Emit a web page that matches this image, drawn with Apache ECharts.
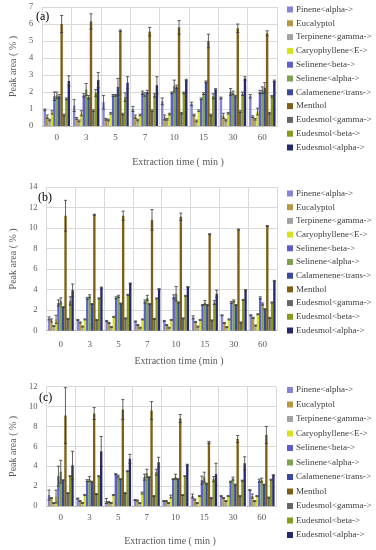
<!DOCTYPE html>
<html><head><meta charset="utf-8">
<script src="https://cdn.jsdelivr.net/npm/echarts@6/dist/echarts.min.js"></script>
<style>html,body{margin:0;padding:0;background:#fff}#c{width:376px;height:550px}</style>
</head><body><div id="c"></div>
<script>
const categories = ['0','3','5','7','10','15','30','60'];
const seriesNames = ['Pinene<alpha->','Eucalyptol','Terpinene<gamma->','Caryophyllene<E->','Selinene<beta->','Selinene<alpha->','Calamenene<trans->','Menthol','Eudesmol<gamma->','Eudesmol<beta->','Eudesmol<alpha->'];
const panelLabels = ['(a)','(b)','(c)'];
const xNames = ['Extraction time ( min )','Extraction time (min )','Extraction time ( min )'];
const yMax = [7,14,12];
const yStep = [1,2,2];

// panel (a): rows = series, cols = categories
const valuesA = [
 [0.95,1.2,1.4,1.0,1.45,1.3,1.65,1.75],
 [0.55,0.45,0.4,0.55,0.5,0.65,0.6,0.55],
 [0.35,0.3,0.35,0.35,0.4,0.3,0.35,0.4],
 [0.8,0.75,0.75,0.65,0.7,0.9,0.75,0.85],
 [1.75,1.8,1.8,1.95,1.95,1.6,2.0,2.0],
 [1.8,2.15,1.8,1.85,2.35,1.9,1.95,2.1],
 [1.75,1.7,2.3,2.0,2.3,2.6,1.75,2.25],
 [6.0,6.15,5.6,5.55,5.8,5.0,5.75,5.45],
 [0.65,0.9,0.7,0.9,0.75,0.65,0.85,0.75],
 [1.6,1.95,1.7,1.8,1.95,1.75,1.9,1.75],
 [2.65,2.7,2.55,2.4,2.7,2.15,2.8,2.65]
];
const errorsA = [
 [0.05,0.35,0.4,0.15,0.2,0.1,0.05,0.1],
 [0.1,0.05,0.05,0.1,0.15,0.05,0.15,0.05],
 [0.05,0.05,0.05,0.05,0.05,0.05,0.05,0.05],
 [0.1,0.15,0.05,0.05,0.05,0.05,0.05,0.2],
 [0.25,0.1,0.05,0.1,0.05,0.05,0.2,0.1],
 [0.2,0.35,0.05,0.1,0.35,0.05,0.1,0.2],
 [0.1,0.1,0.5,0.1,0.1,0.05,0.05,0.3],
 [0.5,0.45,0.05,0.25,0.4,0.4,0.25,0.15],
 [0.05,0.05,0.05,0.05,0.05,0.05,0.05,0.05],
 [0.05,0.2,0.25,0.1,0.05,0.15,0.1,0.05],
 [0.3,0.45,0.35,0.5,0.05,0.05,0.1,0.05]
];
// panel (b)
const valuesB = [
 [1.2,1.05,0.95,0.9,0.95,1.3,1.5,1.5],
 [1.0,0.8,0.75,0.55,0.55,0.85,0.75,1.25],
 [0.45,0.4,0.35,0.3,0.3,0.4,0.35,0.5],
 [1.1,1.1,1.35,1.1,1.05,1.05,1.1,1.6],
 [2.7,3.15,3.2,2.85,3.3,2.5,2.75,3.2],
 [2.9,3.35,3.35,3.2,3.6,2.75,2.9,2.6],
 [2.3,2.6,2.65,2.6,2.75,2.5,2.5,2.1],
 [11.2,11.3,11.2,10.8,11.1,9.4,9.85,10.2],
 [1.15,1.05,1.2,1.15,1.2,1.0,0.8,1.25],
 [2.9,3.15,3.5,3.15,3.4,2.75,3.0,2.75],
 [3.95,4.2,4.6,4.05,4.25,3.6,3.95,4.85]
];
const errorsB = [
 [0.15,0.05,0.05,0.05,0.05,0.15,0.05,0.05],
 [0.15,0.05,0.05,0.05,0.05,0.05,0.05,0.05],
 [0.05,0.05,0.05,0.05,0.05,0.05,0.05,0.05],
 [0.4,0.05,0.05,0.05,0.05,0.05,0.05,0.05],
 [0.3,0.1,0.1,0.15,0.2,0.05,0.1,0.1],
 [0.3,0.15,0.1,0.25,0.7,0.2,0.1,0.1],
 [0.05,0.05,0.05,0.05,0.05,0.05,0.05,0.05],
 [1.5,0.05,0.45,1.0,0.35,0.05,0.05,0.05],
 [0.05,0.05,0.05,0.05,0.05,0.05,0.05,0.05],
 [0.4,0.05,0.05,0.05,0.05,0.2,0.05,0.05],
 [0.6,0.05,0.05,0.05,0.05,0.35,0.05,0.05]
];
// panel (c)
const valuesC = [
 [1.1,0.75,0.5,0.6,0.5,1.0,1.0,1.6],
 [0.8,0.5,0.4,0.55,0.5,0.65,0.8,1.0],
 [0.3,0.3,0.3,0.3,0.3,0.3,0.5,0.5],
 [0.95,1.1,1.1,1.3,0.95,1.0,1.0,1.0],
 [3.0,2.55,3.2,2.9,2.7,2.6,2.45,2.55],
 [3.45,2.7,3.0,3.3,2.95,2.9,2.75,2.6],
 [2.6,2.45,2.7,2.9,2.7,2.25,2.15,2.15],
 [9.1,9.3,9.7,9.6,8.8,6.4,6.75,7.15],
 [1.3,1.2,1.3,1.0,1.1,0.8,1.0,0.85],
 [3.0,3.0,3.5,3.4,3.0,2.7,2.55,2.65],
 [4.1,5.5,4.75,4.4,4.15,3.2,4.3,3.1]
];
const errorsC = [
 [0.5,0.05,0.25,0.05,0.05,0.2,0.05,0.05],
 [0.05,0.05,0.05,0.05,0.05,0.05,0.05,0.2],
 [0.05,0.05,0.05,0.05,0.05,0.05,0.05,0.05],
 [0.65,0.05,0.05,0.1,0.15,0.05,0.05,0.05],
 [1.0,0.1,0.05,0.3,0.05,0.4,0.05,0.15],
 [1.15,0.25,0.1,0.4,0.25,0.5,0.15,0.2],
 [0.05,0.05,0.05,0.05,0.05,0.05,0.05,0.05],
 [2.8,0.6,1.0,0.9,0.4,0.1,0.35,0.85],
 [0.05,0.05,0.05,0.05,0.05,0.05,0.05,0.05],
 [0.05,0.05,0.05,0.3,0.05,0.25,0.05,0.05],
 [1.4,1.5,0.45,0.5,0.05,1.1,0.65,0.05]
];
const colors = ['#8585d6','#b39a42','#a3a3a3','#d6e21e','#5e5ec8','#7fa24e','#3a4a9a','#7d5f17','#666666','#8a9a20','#26286e'];

const FONT = 'Liberation Serif';
const GAP = 0.1;
const N = seriesNames.length;
const panels = [valuesA, valuesB, valuesC];
const errs = [errorsA, errorsB, errorsC];
const grids = [
 {left:37, right:99, top:7, bottom:424},
 {left:37, right:99, top:187, bottom:219.3},
 {left:40, right:100, top:386.7, bottom:44}
];
const yNameGap = [24, 24, 26];
const labelTops = [11, 192, 392];
const labelLefts = [36, 38, 39];
const xNameTop = [157, 356, 536];
const xNameCenter = [178, 179, 170];
const legendTop = [5, 189, 385.5];
const legendGap = [4.8, 4.7, 5.5];

const series = [];
panels.forEach((vals, p) => {
  vals.forEach((row, i) => {
    series.push({
      type:'bar', name:seriesNames[i], xAxisIndex:p, yAxisIndex:p,
      data:row, barGap:'0%', barCategoryGap:(GAP*100)+'%',
      itemStyle:{color:colors[i]}, animation:false
    });
  });
  const edata = [];
  vals.forEach((row, i) => row.forEach((v, c) => edata.push([c, i, v, errs[p][i][c]])));
  series.push({
    type:'custom', name:'err'+p, xAxisIndex:p, yAxisIndex:p, data:edata,
    encode:{x:0, y:2}, z:10, animation:false, silent:true,
    renderItem:function(params, api){
      const c = api.value(0), i = api.value(1), v = api.value(2), e = api.value(3);
      if (!e) return null;
      const band = api.size([1,0])[0];
      const inner = band*(1-GAP);
      const bw = inner/N;
      const cx = api.coord([c, 0])[0] - inner/2 + (i+0.5)*bw;
      const yT = api.coord([c, v+e])[1];
      const yB = api.coord([c, Math.max(v-e,0)])[1];
      const hw = 1.6;
      const st = {stroke:'#3a3a3a', lineWidth:0.8};
      return {type:'group', children:[
        {type:'line', shape:{x1:cx,y1:yT,x2:cx,y2:yB}, style:st},
        {type:'line', shape:{x1:cx-hw,y1:yT,x2:cx+hw,y2:yT}, style:st},
        {type:'line', shape:{x1:cx-hw,y1:yB,x2:cx+hw,y2:yB}, style:st}
      ]};
    }
  });
});

const option = {
  animation:false,
  grid: grids,
  xAxis: grids.map((g, p) => ({
    type:'category', gridIndex:p, data:categories,
    axisLine:{lineStyle:{color:'#bfbfbf'}}, axisTick:{show:false},
    axisLabel:{fontFamily:FONT, fontSize:9, color:'#595959', margin:p===1?9:7},
    splitLine:{show:true, lineStyle:{color:'#d9d9d9', width:1}}
  })),
  yAxis: grids.map((g, p) => ({
    type:'value', gridIndex:p, min:0, max:yMax[p], interval:yStep[p],
    name:'Peak area ( % )', nameLocation:'middle', nameGap:yNameGap[p],
    nameTextStyle:{fontFamily:FONT, fontSize:10, color:'#595959'},
    axisLine:{show:false}, axisTick:{show:false},
    axisLabel:{fontFamily:FONT, fontSize:8.5, color:'#595959', margin:9},
    splitLine:{lineStyle:{color:'#d9d9d9', width:1}}
  })),
  title: [
    ...panelLabels.map((t, p) => ({text:t, left:labelLefts[p], top:labelTops[p], padding:0,
      textStyle:{fontFamily:FONT, fontSize:12, fontWeight:'normal', color:'#000'}})),
    ...xNames.map((t, p) => ({text:t, left:xNameCenter[p], top:xNameTop[p], padding:0, textAlign:'center',
      textStyle:{fontFamily:FONT, fontSize:10, fontWeight:'normal', color:'#595959'}}))
  ],
  legend: grids.map((g, p) => ({
    data:seriesNames, orient:'vertical', left:287, top:legendTop[p], padding:0,
    itemWidth:6, itemHeight:6, itemGap:legendGap[p], icon:'rect', selectedMode:false,
    textStyle:{fontFamily:FONT, fontSize:9, color:'#404040', padding:[0,0,0,-2]}
  })),
  series: series
};
const chart = echarts.init(document.getElementById('c'), null, {renderer:'canvas'});
chart.setOption(option);
</script></body></html>
